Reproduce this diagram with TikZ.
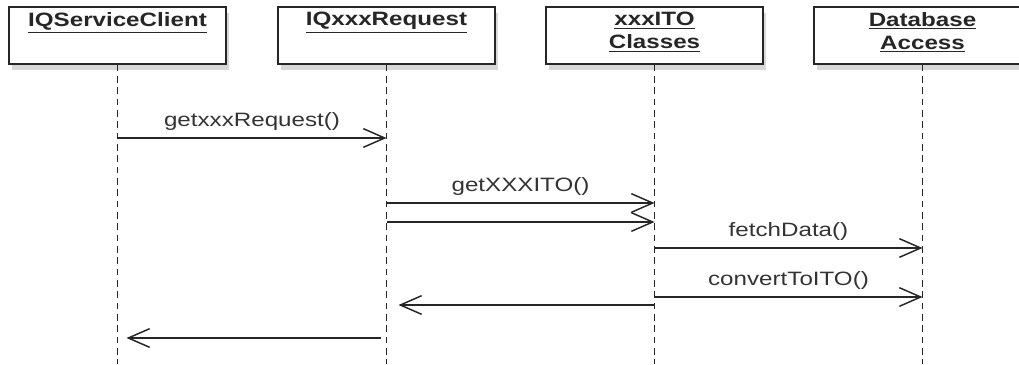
\documentclass[tikz,border=0pt]{standalone}
\usepackage{fontspec}
\setmainfont{Liberation Sans}[FakeStretch = 1.25]
\usetikzlibrary{arrows.meta, shadows, calc}

\begin{document}
\begin{tikzpicture}[x = 0.75pt, y = -0.75pt]
\tikzstyle{BoxStyle}=[shape = rectangle,
							draw = black!85,
							line width = 1.2pt,
							fill = white,
							minimum width = 162.75pt,
							minimum height = 42.75pt,
							inner sep = 0pt,
                         					drop shadow = {shadow xshift = 2.5pt, shadow yshift = -4.5pt, fill = black!30}]
\tikzstyle{NameStyle}=[anchor = north, align = center, inner xsep = 0pt, inner ysep = 4.5pt,
							text = black!85,
							font = \fontsize{14.5}{17.25}\selectfont\bfseries]
\tikzstyle{LifeStyle}=[draw = black!85, line width = 1.1pt, dash pattern = on 5pt off 3.5pt]
\tikzstyle{MsgStyle}=[draw = black!85, line width = 1.2pt,
							-{Straight Barb[length = 16pt, width = 14pt, line width = 1.1pt]}]
\tikzstyle{LabelStyle}=[above = 3pt, inner sep = 2pt, text = black!80,
							font = \fontsize{14.5}{16}\selectfont]
\useasboundingbox (0, 0) rectangle (1019, 364);
% objects
\node[BoxStyle, label = {[NameStyle] north:\underline{IQServiceClient}}] (o0) at (117.5, 35.5) {};
\node[BoxStyle, label = {[NameStyle] north:\underline{IQxxxRequest}}] (o1) at (386.5, 35.5) {};
\node[BoxStyle, label = {[NameStyle] north:\underline{xxxITO}\\\underline{Classes}}] (o2) at (654.5, 35.5) {};
\node[BoxStyle, label = {[NameStyle] north:\underline{Database}\\\underline{Access}}] (o3) at (922.5, 35.5) {};
% lifelines
\foreach \o in {o0, o1, o2, o3}
	\draw[LifeStyle] (\o.south) -- (\o |- 0, 364);
% messages
\draw[MsgStyle] (o0 |- 0, 138) -- node[LabelStyle] (m0) {getxxxRequest()} (o1 |- 0, 138);
\draw[MsgStyle] (o1 |- 0, 203) -- node[LabelStyle] (m1) {getXXXITO()} (o2 |- 0, 203);
\draw[MsgStyle] (o1 |- 0, 222) -- (o2 |- 0, 222);
\draw[MsgStyle] (o2 |- 0, 248) -- node[LabelStyle] (m2) {fetchData()} (o3 |- 0, 248);
\draw[MsgStyle] (o2 |- 0, 297) -- node[LabelStyle] (m3) {convertToITO()} (o3 |- 0, 297);
\draw[MsgStyle] (o2 |- 0, 305) -- ($(o1 |- 0, 305) + (12, 0)$);
\draw[MsgStyle] ($(o1 |- 0, 338) + (-6, 0)$) -- ($(o0 |- 0, 338) + (9, 0)$);
\end{tikzpicture}
\end{document}
